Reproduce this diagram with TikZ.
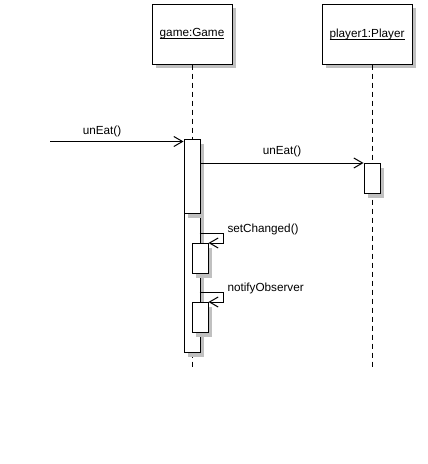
\documentclass[tikz,border=0pt]{standalone}
\usepackage{fontspec}
\setmainfont{Liberation Sans}
\usetikzlibrary{arrows.meta}

% underline close to the baseline
\newcommand{\ulname}[1]{\setbox0\hbox{#1}\rlap{\rule[-1.8pt]{\wd0}{0.6pt}}\box0}
\definecolor{shadowgray}{RGB}{192,192,192}

\begin{document}
\begin{tikzpicture}[x=0.75pt, y=-0.75pt, line width=0.75pt,
	font=\fontsize{8.8}{10}\selectfont,
	shade box/.style={preaction={draw=none, fill=shadowgray, transform canvas={xshift=3pt, yshift=-3pt}}},
	object/.style={draw, fill=white, shade box, minimum height=45pt, inner sep=0pt},
	act/.style={draw, fill=white, shade box, minimum width=12pt, inner sep=0pt, anchor=north},
	lifeline/.style={dash pattern=on 3.75pt off 3pt},
	msg/.style={-{Straight Barb[length=6.5pt, width=7.5pt]}}]
	\useasboundingbox (0,0) rectangle (428,464);

	\node[object, minimum width=60pt](game) at (192,34) {\ulname{game:Game}};
	\node[object, minimum width=67.5pt](player) at (367,34) {\ulname{player1:Player}};

	\coordinate (game end) at (192,368);
	\coordinate (player end) at (372,368);
	\draw[lifeline] (game.south) -- (game end);
	\draw[lifeline] (player.south -| player end) -- (player end);

	\node[act, minimum height=139*0.75pt](act game2) at (192,213) {};
	\node[act, minimum height=74*0.75pt](act game1) at (192,139) {};
	\node[act, minimum height=30*0.75pt](act player) at (372,163) {};
	\node[act, minimum height=30*0.75pt](act set) at (200,243) {};
	\node[act, minimum height=30*0.75pt](act notify) at (200,302) {};

	\coordinate (caller) at (50,141.5);
	\draw[msg] (caller) -- (caller -| act game1.west) node[pos=0.39, above](call lbl) {unEat()};
	\draw[msg] (act game1.east |- act player.north) -- (act player.north west) node[midway, above, yshift=1pt](player lbl) {unEat()};

	\draw[msg] (act set.north west) ++(8,-10) -- ++(24,0) -- ++(0,10) -- (act set.north east);
	\node[anchor=base west, inner sep=0pt](set lbl) at (227,232) {setChanged()};
	\draw[msg] (act notify.north west) ++(8,-10) -- ++(24,0) -- ++(0,10) -- (act notify.north east);
	\node[anchor=base west, inner sep=0pt](notify lbl) at (227,291) {notifyObserver};
\end{tikzpicture}
\end{document}
